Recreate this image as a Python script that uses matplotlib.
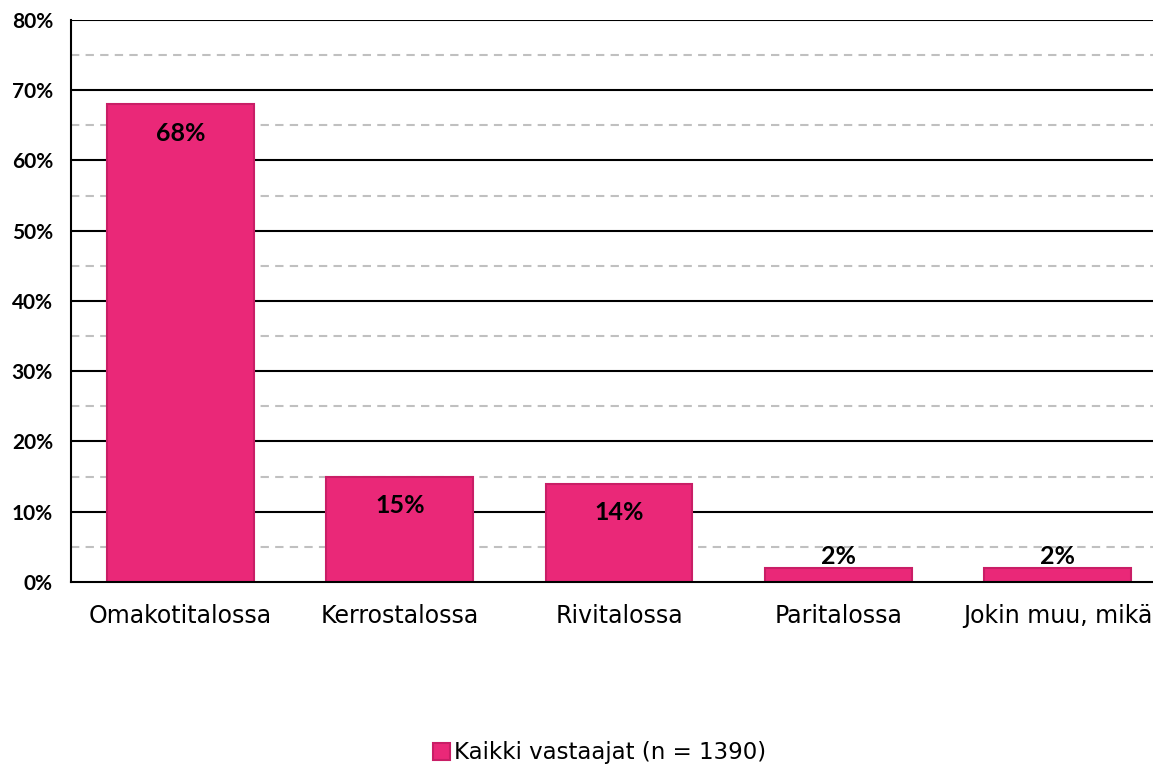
import matplotlib.pyplot as plt
import numpy as np
from matplotlib.patches import Patch

categories = ["Omakotitalossa", "Kerrostalossa", "Rivitalossa", "Paritalossa", "Jokin muu, mikä"]
values = [68, 15, 14, 2, 2]
series_name = "Kaikki vastaajat (n = 1390)"
yticks = [0, 10, 20, 30, 40, 50, 60, 70, 80]

pink = "#EA2878"
edge = "#C91E66"

fig = plt.figure(figsize=(11.53, 7.68), dpi=100)
# plot area runs a little past the right edge of the image
ax = fig.add_axes([0.0616, 0.2422, 0.9506, 0.7318])

x = np.arange(len(categories))
ax.set_xlim(-0.5, len(categories) - 0.5)
ax.set_ylim(0, 80)

# gridlines: solid at tens, dashed at fives
for v in range(5, 80, 10):
    ax.axhline(v, color="#c0c0c0", lw=1.5, ls=(0, (4, 3)), zorder=1)
for v in range(10, 90, 10):
    ax.axhline(v, color="black", lw=1.5, zorder=1)

bars = ax.bar(x, values, width=0.67, color=pink, edgecolor=edge, lw=1.5, zorder=3)

for xi, v in zip(x, values):
    off = -21 if v >= 10 else 8
    ax.annotate(f"{v}%", (xi, v), xytext=(0, off), textcoords="offset points",
                ha="center", va="center", fontsize=18, fontweight="bold",
                family="Lato", zorder=4)

ax.set_yticks(yticks)
ax.set_yticklabels([f"{t}%" for t in yticks], fontsize=15, fontweight="bold", family="Lato")
ax.set_xticks(x)
ax.set_xticklabels(categories, fontsize=17, family="DejaVu Sans")
ax.tick_params(axis="x", length=0, pad=16)
ax.tick_params(axis="y", length=0, pad=13)

for s in ["top", "right"]:
    ax.spines[s].set_visible(False)
ax.spines["left"].set_linewidth(1.5)
ax.spines["bottom"].set_linewidth(1.5)
ax.spines["left"].set_zorder(5)
ax.spines["bottom"].set_zorder(5)

handle = Patch(facecolor=pink, edgecolor=edge, lw=1.5)
fig.legend([handle], [series_name], loc="center", bbox_to_anchor=(0.52, 0.02),
           frameon=False, prop={"family": "DejaVu Sans", "size": 16.5},
           handlelength=0.75, handleheight=0.75, handletextpad=0.2)

fig.savefig("out.png", dpi=100)
